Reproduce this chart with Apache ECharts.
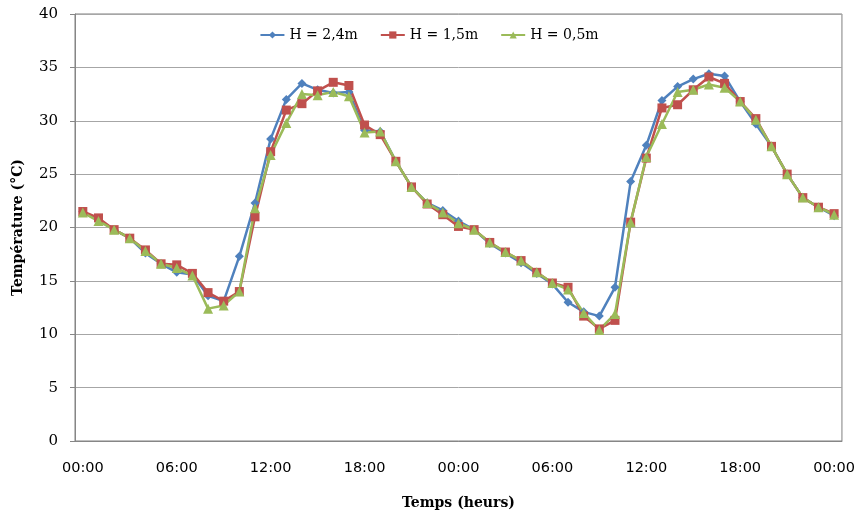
<!DOCTYPE html>
<html>
<head>
<meta charset="utf-8">
<script src="https://cdn.jsdelivr.net/npm/echarts@6/dist/echarts.min.js"></script>
<style>html,body{margin:0;padding:0;background:#fff}#c{width:858px;height:515px}</style>
</head>
<body>
<div id="c"></div>
<script>
const hours = ["00:00","01:00","02:00","03:00","04:00","05:00","06:00","07:00","08:00","09:00","10:00","11:00",
  "12:00","13:00","14:00","15:00","16:00","17:00","18:00","19:00","20:00","21:00","22:00","23:00",
  "00:00","01:00","02:00","03:00","04:00","05:00","06:00","07:00","08:00","09:00","10:00","11:00",
  "12:00","13:00","14:00","15:00","16:00","17:00","18:00","19:00","20:00","21:00","22:00","23:00","00:00"];
const h24 = [21.5,20.7,19.8,19.0,17.6,16.6,15.8,15.6,13.6,13.1,17.3,22.3,28.3,32.0,33.5,32.9,32.6,32.7,29.1,29.0,26.2,23.8,22.3,21.6,20.6,19.8,18.5,17.6,16.7,15.7,14.7,13.0,12.1,11.7,14.4,24.3,27.7,31.9,33.2,33.9,34.4,34.2,31.8,29.7,27.6,25.0,22.8,21.9,21.1];
const h15 = [21.5,20.9,19.8,19.0,17.9,16.6,16.5,15.7,13.9,13.1,14.0,21.0,27.1,31.0,31.6,32.8,33.6,33.3,29.6,28.7,26.2,23.8,22.2,21.2,20.1,19.8,18.6,17.7,16.9,15.8,14.8,14.4,11.7,10.5,11.3,20.5,26.5,31.2,31.5,32.9,34.1,33.5,31.8,30.2,27.6,25.0,22.8,21.9,21.3];
const h05 = [21.4,20.6,19.8,19.0,17.8,16.6,16.2,15.5,12.4,12.7,14.0,21.8,26.8,29.8,32.5,32.4,32.7,32.3,28.9,29.0,26.2,23.8,22.3,21.4,20.4,19.8,18.6,17.7,16.9,15.8,14.8,14.2,12.0,10.4,11.9,20.5,26.6,29.7,32.7,32.9,33.4,33.1,31.8,30.1,27.6,25.0,22.8,21.9,21.2];
const seriesNames = ["H = 2,4m","H = 1,5m","H = 0,5m"];
const yTicks = {min:0, max:40, interval:5};

const chart = echarts.init(document.getElementById('c'), null, {renderer:'canvas'});
const mk = (name, data, color, symbol, size) => ({
  name, type:'line', data, symbol, symbolSize:size, showSymbol:true,
  lineStyle:{color, width:2.5}, itemStyle:{color}, animation:false
});
chart.setOption({
  backgroundColor:'#fff',
  animation:false,
  grid:{left:75, right:15, top:14, bottom:74, show:true, borderColor:'#7f7f7f', borderWidth:1},
  legend:{
    top:23, left:'center', itemWidth:24, itemHeight:9, itemGap:22,
    textStyle:{fontFamily:'DejaVu Serif', fontSize:14, color:'#000'},
    data:seriesNames
  },
  xAxis:{
    type:'category', data:hours, boundaryGap:true,
    name:'Temps (heurs)', nameLocation:'middle', nameGap:55,
    nameTextStyle:{fontFamily:'DejaVu Serif', fontWeight:'bold', fontSize:14, color:'#000'},
    axisLine:{lineStyle:{color:'#868686'}},
    axisTick:{interval:3, length:5, lineStyle:{color:'#868686'}},
    axisLabel:{interval:5, margin:20, fontFamily:'DejaVu Sans', fontSize:14.5, color:'#000'},
    splitLine:{show:false}
  },
  yAxis:{
    type:'value', min:yTicks.min, max:yTicks.max, interval:yTicks.interval,
    name:'Température (°C)', nameLocation:'middle', nameGap:50,
    nameTextStyle:{fontFamily:'DejaVu Serif', fontWeight:'bold', fontSize:14, color:'#000'},
    axisLine:{show:true, lineStyle:{color:'#868686'}},
    axisTick:{show:true, length:5, lineStyle:{color:'#868686'}},
    axisLabel:{margin:17, fontFamily:'DejaVu Serif', fontSize:15, color:'#000'},
    splitLine:{lineStyle:{color:'#a6a6a6', width:1}}
  },
  series:[
    mk(seriesNames[0], h24, '#4F81BD', 'diamond', 9),
    mk(seriesNames[1], h15, '#C0504D', 'rect', 9),
    mk(seriesNames[2], h05, '#9BBB59', 'triangle', 10)
  ]
});
</script>
</body>
</html>
